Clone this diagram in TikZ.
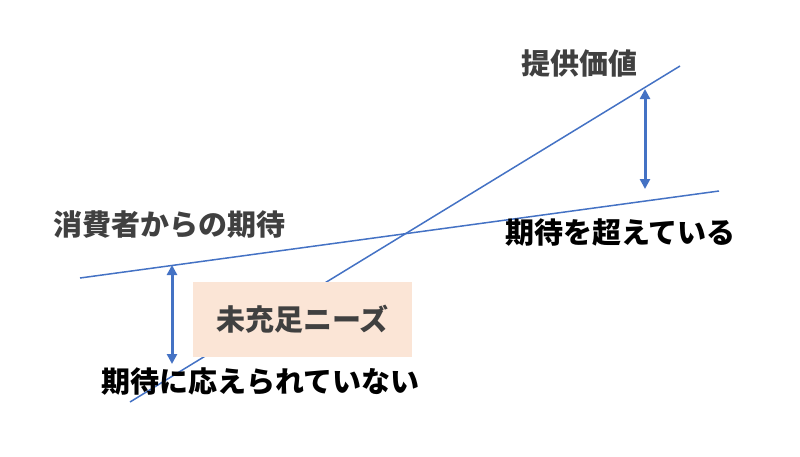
\documentclass[tikz,border=0pt]{standalone}
\usepackage{fontspec}
\newfontfamily\jp{Noto Sans CJK JP}
\usetikzlibrary{arrows.meta}
\definecolor{lineblue}{HTML}{4472C4}
\definecolor{peach}{HTML}{FBE5D6}
\definecolor{darkgray}{HTML}{404040}
\tikzset{
  thinline/.style={draw=lineblue, line width=1.5pt},
  gaparrow/.style={draw=lineblue, line width=3pt, {Triangle[length=10pt,width=10pt]}-{Triangle[length=10pt,width=10pt]}},
  graytext/.style={font=\jp\bfseries\fontsize{29}{33}\selectfont, text=darkgray, inner sep=0pt},
  blacktext/.style={font=\jp\bfseries\fontsize{29}{33}\selectfont, text=black, inner sep=0pt},
  needbox/.style={fill=peach, minimum width=219pt, minimum height=75pt, inner sep=0pt, font=\jp\bfseries\fontsize{29}{33}\selectfont, text=darkgray}
}
\begin{document}
\begin{tikzpicture}[x=1pt,y=-1pt]
\useasboundingbox (0,0) rectangle (800,456);
% line endpoints
\coordinate (e1) at (80,278);
\coordinate (e2) at (719,191);
\coordinate (v1) at (130,402);
\coordinate (v2) at (680,66);
% arrow endpoints
\coordinate (la1) at (172,265);
\coordinate (la2) at (172,364);
\coordinate (ra1) at (645,89);
\coordinate (ra2) at (645,189);
\draw[thinline] (e1) -- (e2);
\draw[thinline] (v1) -- (v2);
\node[needbox] (need) at (302.5,319.5) {未充足ニーズ};
\draw[gaparrow] (la1) -- (la2);
\draw[gaparrow] (ra1) -- (ra2);
\node[graytext, anchor=west] (exp) at (53,225) {消費者からの期待};
\node[graytext] (val) at (579,63) {提供価値};
\node[blacktext, anchor=west] (over) at (505,233) {期待を超えている};
\node[blacktext, anchor=west] (under) at (101,382) {期待に応えられていない};
\end{tikzpicture}
\end{document}
